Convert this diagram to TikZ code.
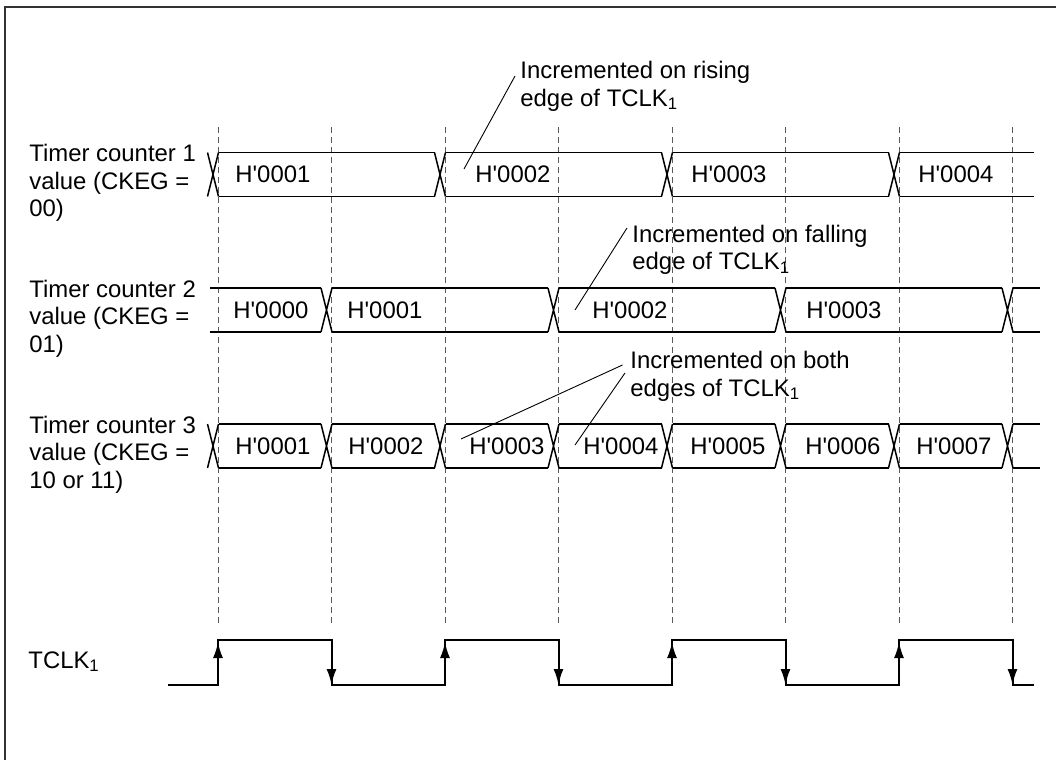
\documentclass[tikz,border=0pt]{standalone}
\usepackage{fontspec}
\setmainfont{Liberation Sans}
\usetikzlibrary{arrows.meta}
\newcommand{\hval}[1]{H\textquotesingle#1}
\newcommand{\tclk}{TCLK\textsubscript{1}}

\begin{document}
\begin{tikzpicture}[x=0.5pt,y=-0.5pt,
  txt/.style={font=\fontsize{11.95}{13.75}\selectfont,inner sep=0pt,align=left},
  val/.style={txt,anchor=west},
  bus/.style={line width=0.75pt},
  guide/.style={black!65,line width=0.5pt,dash pattern=on 3pt off 2pt},
  clk/.style={line width=1pt},
  edgearr/.style={line width=1pt,-{Latex[length=8pt,width=5pt]}},
  lead/.style={line width=0.45pt}]
  \useasboundingbox (0,0) rectangle (1056,760);
  \draw[black!80,line width=0.6pt] (1056,7) -- (5,7) -- (5,760);
  % edge guides
  \foreach \e in {218,331.5,445,558.5,672,785.5,899,1012.5}
    \draw[guide] (\e,127) -- (\e,626);
  % counter 1: rising edges
  \foreach \e in {218,445,672,899}
    \draw[bus] (\e-10.5,152.5) -- (\e+0.5,196.5) (\e-10.5,196.5) -- (\e+0.5,152.5);
  \foreach \a/\b in {218/445,445/672,672/899,899/1044.5}
    \draw[bus] (\a+0.5,152.5) -- (\b-10.5,152.5) (\a+0.5,196.5) -- (\b-10.5,196.5);
  % counter 2: falling edges
  \foreach \e in {331.5,558.5,785.5,1012.5}
    \draw[bus] (\e-10.5,288) -- (\e+0.5,332) (\e-10.5,332) -- (\e+0.5,288);
  \foreach \a/\b in {209.5/331.5,331.5/558.5,558.5/785.5,785.5/1012.5,1012.5/1050.5}
    \draw[bus] (\a+0.5,288) -- (\b-10.5,288) (\a+0.5,332) -- (\b-10.5,332);
  % counter 3: both edges
  \foreach \e in {218,331.5,445,558.5,672,785.5,899,1012.5}
    \draw[bus] (\e-10.5,424) -- (\e+0.5,468) (\e-10.5,468) -- (\e+0.5,424);
  \foreach \a/\b in {218/331.5,331.5/445,445/558.5,558.5/672,672/785.5,785.5/899,899/1012.5,1012.5/1050.5}
    \draw[bus] (\a+0.5,424) -- (\b-10.5,424) (\a+0.5,468) -- (\b-10.5,468);
  % TCLK
  \draw[clk] (168,685) \foreach \e in {218,445,672,899} {-- (\e,685) -- (\e,640) -- (\e+113.5,640) -- (\e+113.5,685)} -- (1034,685);
  \foreach \e in {218,445,672,899} {
    \draw[edgearr] (\e,685) -- (\e,642);
    \draw[edgearr] (\e+113.5,640) -- (\e+113.5,685);
  }
  % row labels
  \node[txt,anchor=north west] (lab1) at (29,144) {Timer counter 1\\value (CKEG =\\00)};
  \node[txt,anchor=north west] (lab2) at (29,279.5) {Timer counter 2\\value (CKEG =\\01)};
  \node[txt,anchor=north west] (lab3) at (29,415.5) {Timer counter 3\\value (CKEG =\\10 or 11)};
  \node[txt,anchor=base west] (labclk) at (28,668) {\tclk};
  % values
  \node[val] (a1) at (235,174.5) {\hval{0001}};
  \node[val] (a2) at (475,174.5) {\hval{0002}};
  \node[val] (a3) at (691,174.5) {\hval{0003}};
  \node[val] (a4) at (918,174.5) {\hval{0004}};
  \node[val] (b0) at (233,310) {\hval{0000}};
  \node[val] (b1) at (347,310) {\hval{0001}};
  \node[val] (b2) at (592,310) {\hval{0002}};
  \node[val] (b3) at (806,310) {\hval{0003}};
  \node[val] (c1) at (235,446) {\hval{0001}};
  \node[val] (c2) at (348,446) {\hval{0002}};
  \node[val] (c3) at (469,446) {\hval{0003}};
  \node[val] (c4) at (583,446) {\hval{0004}};
  \node[val] (c5) at (690,446) {\hval{0005}};
  \node[val] (c6) at (805,446) {\hval{0006}};
  \node[val] (c7) at (916,446) {\hval{0007}};
  % notes
  \node[txt,anchor=north west] (inc1) at (520,61) {Incremented on rising\\edge of \tclk};
  \node[txt,anchor=north west] (inc2) at (632,224.5) {Incremented on falling\\edge of \tclk};
  \node[txt,anchor=north west] (inc3) at (630,351) {Incremented on both\\edges of \tclk};
  \coordinate (p1) at (464,169);
  \coordinate (p2) at (575,310);
  \coordinate (p3) at (461,439);
  \coordinate (p4) at (575,445);
  \draw[lead] (inc1.north west) ++(-5,15) -- (p1);
  \draw[lead] (inc2.north west) ++(-5,3.5) -- (p2);
  \draw[lead] (inc3.north west) ++(-7.5,14) -- (p3);
  \draw[lead] (inc3.north west) ++(-5,22) -- (p4);
\end{tikzpicture}
\end{document}
